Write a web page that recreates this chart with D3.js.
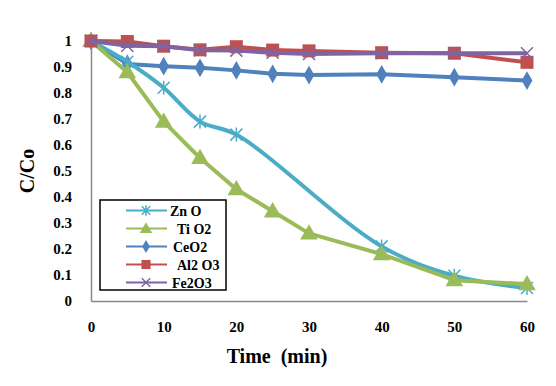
<!DOCTYPE html>
<html>
<head>
<meta charset="utf-8">
<script src="https://cdn.jsdelivr.net/npm/d3@7"></script>
<style>
  body { margin: 0; background: #fff; }
  text { font-family: "Liberation Serif", "Times New Roman", serif; font-weight: bold; }
</style>
</head>
<body>
<div class="container"></div>
<script>
// data
var times = [0, 5, 10, 15, 20, 25, 30, 40, 50, 60];
var znoTimes = [0, 5, 10, 15, 20, 40, 50, 60];
var zno = [1, 0.92, 0.82, 0.69, 0.64, 0.21, 0.097, 0.05];
var tio2 = [1, 0.88, 0.69, 0.55, 0.43, 0.345, 0.26, 0.18, 0.08, 0.065];
var ceo2 = [1, 0.912, 0.903, 0.897, 0.887, 0.874, 0.869, 0.872, 0.861, 0.848];
var al2o3 = [1, 0.998, 0.98, 0.966, 0.978, 0.965, 0.962, 0.955, 0.953, 0.918];
var fe2o3 = [1, 0.982, 0.98, 0.964, 0.963, 0.955, 0.95, 0.953, 0.953, 0.953];
var xTicks = [0, 10, 20, 30, 40, 50, 60];
var yTicks = [0, 0.1, 0.2, 0.3, 0.4, 0.5, 0.6, 0.7, 0.8, 0.9, 1];

var series = [
  {name: 'Zn O', x: znoTimes, y: zno, color: '#4BACC6', marker: 'star', smooth: true},
  {name: 'Ti O2', x: times, y: tio2, color: '#9BBB59', marker: 'triangle'},
  {name: 'CeO2', x: times, y: ceo2, color: '#4F81BD', marker: 'diamond'},
  {name: 'Al2 O3', x: times, y: al2o3, color: '#C0504D', marker: 'square'},
  {name: 'Fe2O3', x: times, y: fe2o3, color: '#8064A2', marker: 'cross'}
];

var w = 556, h = 386;
var svg = d3.select('.container').append('svg')
  .attr('width', w).attr('height', h);

var xScale = d3.scaleLinear().domain([0, 60]).range([91, 527]);
var yScale = d3.scaleLinear().domain([0, 1]).range([301, 41]);

/* axes */
var xAxis = d3.axisBottom(xScale).tickValues(xTicks).tickSize(0).tickPadding(20);
var yAxis = d3.axisLeft(yScale).tickValues(yTicks).tickSize(0).tickPadding(19)
  .tickFormat(function(d) { return d3.format('')(+d.toFixed(1)); });

var gx = svg.append('g').attr('transform', 'translate(0,' + yScale(0) + ')').call(xAxis);
var gy = svg.append('g').attr('transform', 'translate(' + xScale(0) + ',0)').call(yAxis);
gx.select('.domain').attr('stroke', '#888').attr('stroke-width', 1.5);
gy.select('.domain').attr('stroke', '#888').attr('stroke-width', 1.5);
svg.selectAll('.tick text')
  .style('font-family', '"Liberation Serif", serif')
  .style('font-weight', 'bold')
  .style('font-size', '15px')
  .attr('fill', '#000');

svg.append('text')
  .attr('x', 277).attr('y', 363)
  .attr('text-anchor', 'middle')
  .style('font-size', '20px')
  .style('white-space', 'pre')
  .text('Time  (min)');

svg.append('text')
  .attr('transform', 'translate(34,171) rotate(-90)')
  .attr('text-anchor', 'middle')
  .style('font-size', '20px')
  .text('C/Co');

/* markers */
function drawMarker(g, type, color, cx, cy, s) {
  if (type === 'square') {
    g.append('rect').attr('x', cx - s / 2).attr('y', cy - s / 2)
      .attr('width', s).attr('height', s).attr('fill', color);
  } else if (type === 'diamond') {
    g.append('path').attr('d', d3.symbol().type(d3.symbolDiamond).size(s * s * 0.6)())
      .attr('transform', 'translate(' + cx + ',' + cy + ')').attr('fill', color);
  } else if (type === 'triangle') {
    g.append('path').attr('d', d3.symbol().type(d3.symbolTriangle).size(s * s * 0.6)())
      .attr('transform', 'translate(' + cx + ',' + (cy + 1) + ')').attr('fill', color);
  } else if (type === 'cross') {
    var r = s / 2;
    g.append('path')
      .attr('d', 'M' + (cx - r) + ',' + (cy - r) + 'L' + (cx + r) + ',' + (cy + r) +
        'M' + (cx - r) + ',' + (cy + r) + 'L' + (cx + r) + ',' + (cy - r))
      .attr('stroke', color).attr('stroke-width', 1.5);
  } else if (type === 'star') {
    var r2 = s / 2;
    g.append('path')
      .attr('d', 'M' + (cx - r2) + ',' + (cy - r2) + 'L' + (cx + r2) + ',' + (cy + r2) +
        'M' + (cx - r2) + ',' + (cy + r2) + 'L' + (cx + r2) + ',' + (cy - r2) +
        'M' + cx + ',' + (cy - r2 - 1) + 'L' + cx + ',' + (cy + r2 + 1))
      .attr('stroke', color).attr('stroke-width', 1.5);
  }
}

var markerSize = {square: 13, diamond: 13, triangle: 15, cross: 12, star: 12};

/* lines, drawn so red/purple stay on top like the original */
var order = [2, 0, 1, 3, 4];
order.forEach(function(i) {
  var s = series[i];
  var pts = s.x.map(function(t, j) { return [t, s.y[j]]; });
  var line = d3.line()
    .x(function(d) { return xScale(d[0]); })
    .y(function(d) { return yScale(d[1]); })
    .curve(s.smooth ? d3.curveCatmullRom.alpha(0.5) : d3.curveLinear);
  var g = svg.append('g');
  g.append('path').datum(pts).attr('d', line)
    .attr('fill', 'none').attr('stroke', s.color).attr('stroke-width', 4)
    .attr('stroke-linejoin', 'round');
  pts.forEach(function(p) {
    drawMarker(g, s.marker, s.color, xScale(p[0]), yScale(p[1]), markerSize[s.marker]);
  });
});

/* legend */
var legend = svg.append('g');
legend.append('rect').attr('x', 100).attr('y', 200).attr('width', 126).attr('height', 90)
  .attr('fill', '#fff').attr('stroke', '#000').attr('stroke-width', 1.5);
var legendX = [170, 177, 173, 177, 172];
series.forEach(function(s, i) {
  var ly = 210.5 + i * 18;
  legend.append('line').attr('x1', 126).attr('x2', 167).attr('y1', ly).attr('y2', ly)
    .attr('stroke', s.color).attr('stroke-width', 2);
  drawMarker(legend, s.marker, s.color, 146, ly, markerSize[s.marker] * 0.7);
  legend.append('text').attr('x', legendX[i]).attr('y', ly + 5)
    .style('font-size', '14px').text(s.name);
});
</script>
</body>
</html>
